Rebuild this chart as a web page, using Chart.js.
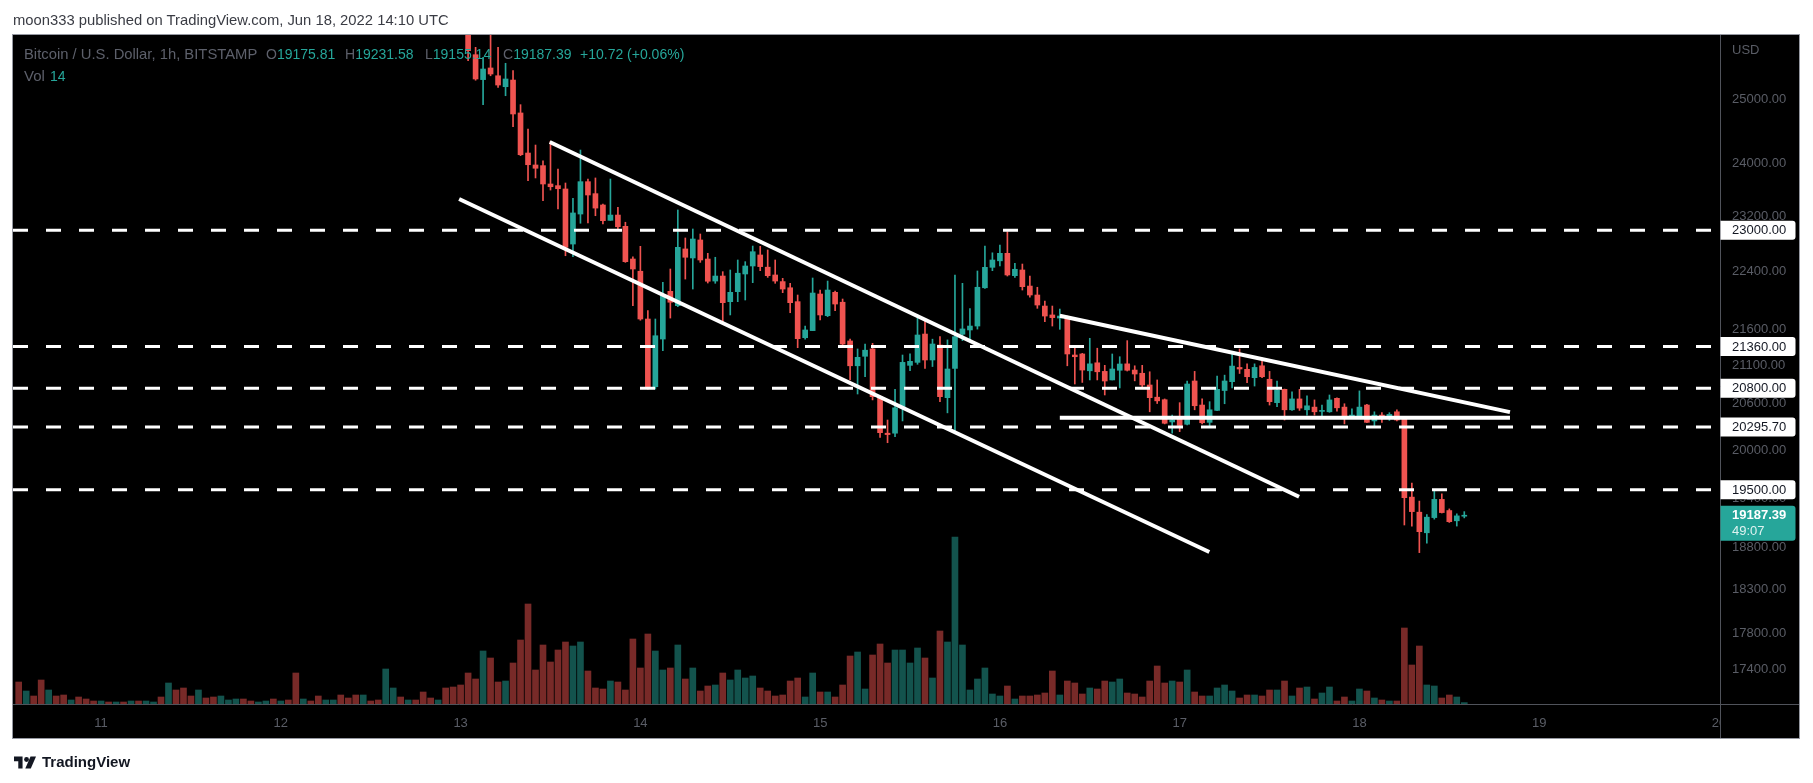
<!DOCTYPE html>
<html lang="en">
<head>
    <meta charset="UTF-8">
    <title>BTCUSD 1h - BITSTAMP</title>
    <script src="https://cdn.jsdelivr.net/npm/chart.js@4.4.1/dist/chart.umd.min.js"></script>
    <style>
        html, body { margin: 0; padding: 0; background: #fff; }
        body { width: 1813px; height: 783px; position: relative; overflow: hidden;
               font-family: 'Liberation Sans', Arial, sans-serif; }
        #chart { position: absolute; left: 0; top: 0; }
        .t { position: absolute; white-space: nowrap; font-size: 14px; line-height: 16px; }
        .grey { color: #5d606b; }
        .teal { color: #26a69a; }
        #header { left: 13px; top: 12px; color: #3a3c44; font-size: 14.8px; }
        #footer { left: 14px; top: 754px; display: flex; align-items: center; gap: 6px;
                  color: #131722; font-size: 15px; font-weight: bold; }
    </style>
</head>
<body>
    <canvas id="chart" width="1813" height="783"></canvas>

    <div class="t" id="header">moon333 published on TradingView.com, Jun 18, 2022 14:10 UTC</div>

    <!-- legend, top left of the pane -->
    <div class="t grey" style="left:24px; top:46px; font-size:14.8px;">Bitcoin / U.S. Dollar, 1h, BITSTAMP</div>
    <div class="t" style="left:266px; top:46px;"><span class="grey">O</span><span class="teal">19175.81</span></div>
    <div class="t" style="left:345px; top:46px;"><span class="grey">H</span><span class="teal">19231.58</span></div>
    <div class="t" style="left:425px; top:46px;"><span class="grey">L</span><span class="teal">19155.14</span></div>
    <div class="t" style="left:503px; top:46px;"><span class="grey">C</span><span class="teal">19187.39</span></div>
    <div class="t teal" style="left:580px; top:46px;">+10.72 (+0.06%)</div>
    <div class="t grey" style="left:24px; top:68px; font-size:15px;">Vol</div>
    <div class="t teal" style="left:50px; top:68px;">14</div>

    <div class="t" id="footer">
        <svg width="22" height="15" viewBox="0 0 36 24"><path fill="#131722" d="M14 22H7V10H0V2h14z"/><circle fill="#131722" cx="20.5" cy="7" r="4"/><path fill="#131722" d="M27 2h9l-8.5 20H18.5z"/></svg>
        <span>TradingView</span>
    </div>

    <script>
        // x values are hours counted from Jun 18 2022 00:00 UTC
        const firstCandle = -119;   // Jun 13 01:00
        const firstVolume = -179;   // Jun 10 13:00

        const open = [
            26180, 25714, 25310, 25498, 25372, 25196, 25303, 24779, 24156, 23973,
            23963, 23685, 23660, 23610, 22798, 23237, 23720, 23540, 23371, 23144,
            23222, 23056, 22582, 22407, 21737, 20821, 21462, 22123, 21922, 22727,
            22597, 22857, 22582, 22268, 22339, 21978, 22118, 22368, 22482, 22640,
            22465, 22354, 22260, 22173, 21978, 21480, 21577, 22085, 21783, 22109,
            21970, 21436, 21100, 21228, 21327, 20690, 20215, 20215, 20550, 21106,
            21146, 21530, 21178, 21380, 20677, 21065, 21527, 21586, 21640, 22173,
            22463, 22556, 22664, 22344, 22425, 22197, 22071, 21917, 21793, 21750,
            21756, 21245, 21259, 21033, 21140, 21025, 20911, 21040, 21126, 21043,
            21000, 20844, 20683, 20650, 20360, 20395, 20330, 20897, 20580, 20355,
            20510, 20771, 20888, 21078, 21053, 20941, 21100, 20920, 20611, 20787,
            20518, 20660, 20518, 20553, 20497, 20492, 20668, 20553, 20415, 20432,
            20580, 20373, 20449, 20420, 20492, 20395, 19410, 19225, 18975, 19159,
            19382, 19245, 19120, 19175.81
        ];
        const high = [
            26250, 25835, 25672, 26100, 25835, 25574, 25454, 24910, 24528, 24279,
            24038, 24337, 23912, 23700, 23470, 24202, 23760, 23776, 23386, 23760,
            23337, 23116, 22615, 22765, 21852, 21737, 22251, 22439, 23297, 22886,
            23017, 22944, 22664, 22607, 22401, 22425, 22568, 22544, 22769, 22765,
            22712, 22568, 22306, 22236, 22071, 21640, 22311, 22141, 22268, 22125,
            22015, 21460, 21327, 21394, 21403, 20700, 20385, 20787, 21245, 21260,
            21760, 21737, 21460, 21494, 21450, 22354, 22236, 21880, 22411, 22769,
            22671, 22784, 22978, 22520, 22510, 22339, 22180, 21985, 21917, 21875,
            21778, 21337, 21268, 21472, 21337, 21106, 21259, 21222, 21440, 21100,
            21106, 21020, 20911, 20660, 20449, 20611, 20897, 21025, 20660, 20624,
            20963, 20975, 21290, 21327, 21126, 21126, 21205, 21025, 20897, 20790,
            20755, 20787, 20700, 20647, 20580, 20712, 20675, 20597, 20530, 20766,
            20590, 20492, 20480, 20480, 20518, 20420, 19583, 19361, 19195, 19506,
            19450, 19265, 19205, 19231.58
        ];
        const low = [
            25616, 25300, 24910, 25372, 25186, 25052, 24563, 24115, 23735, 23776,
            23434, 23594, 23311, 22629, 22615, 23101, 23105, 23212, 23090, 23144,
            23017, 22534, 21922, 21720, 20790, 20790, 21304, 21750, 21908, 22296,
            22155, 22534, 22240, 22236, 21700, 21793, 21978, 22001, 22245, 22415,
            22320, 22236, 22104, 21824, 21344, 21460, 21577, 21724, 21770, 21852,
            21380, 20911, 20725, 20954, 20647, 20162, 20093, 20170, 20373, 21033,
            21120, 21065, 21090, 20625, 20478, 20235, 21440, 21440, 21598, 22165,
            22415, 22482, 22339, 22320, 22141, 22040, 21885, 21700, 21640, 21595,
            21100, 20857, 20878, 20911, 20911, 20712, 20911, 20805, 21030, 20899,
            20814, 20492, 20600, 20335, 20215, 20235, 20320, 20518, 20335, 20300,
            20505, 20597, 20805, 20997, 20876, 20830, 20941, 20580, 20558, 20385,
            20510, 20510, 20449, 20449, 20427, 20485, 20501, 20335, 20410, 20425,
            20350, 20297, 20355, 20380, 20373, 19069, 19056, 18737, 18850, 19140,
            19215, 19100, 19056, 19155.14
        ];
        const close = [
            25780, 25320, 25481, 25400, 25223, 25320, 24763, 24130, 23977, 23923,
            23685, 23644, 23614, 22750, 23253, 23720, 23520, 23325, 23139, 23222,
            23050, 22544, 22439, 21737, 20814, 21507, 22071, 21970, 22750, 22607,
            22871, 22568, 22265, 22339, 21964, 22109, 22379, 22482, 22687, 22473,
            22344, 22268, 22155, 21964, 21467, 21586, 22099, 21793, 22141, 21945,
            21394, 21100, 21214, 21310, 20690, 20222, 20197, 20544, 21146, 21160,
            21517, 21178, 21394, 20690, 21057, 21494, 21600, 21640, 22180, 22463,
            22568, 22664, 22354, 22435, 22188, 22071, 21931, 21778, 21756, 21778,
            21259, 21222, 21043, 21126, 21020, 20897, 21057, 21124, 21040, 20990,
            20844, 20677, 20635, 20343, 20388, 20315, 20857, 20571, 20350, 20518,
            20787, 20897, 21096, 21057, 20954, 21078, 20954, 20624, 20777, 20518,
            20660, 20540, 20570, 20492, 20510, 20647, 20544, 20432, 20449, 20553,
            20355, 20449, 20432, 20458, 20385, 19403, 19232, 18988, 19164, 19382,
            19220, 19109, 19180, 19187.39
        ];

        // BTC per hour, starting at firstVolume
        const volume = [
            220, 130, 80, 240, 140, 80, 90, 40, 70, 50,
            30, 30, 20, 20, 20, 30, 30, 30, 20, 70,
            210, 140, 160, 80, 140, 60, 70, 80, 40, 50,
            50, 30, 20, 30, 50, 30, 40, 310, 50, 30,
            80, 40, 40, 90, 60, 90, 90, 30, 40, 350,
            160, 70, 40, 40, 120, 60, 40, 160, 170, 190,
            310, 250, 530, 460, 220, 230, 410, 640, 1000, 340,
            590, 420, 540, 620, 580, 620, 330, 160, 150, 230,
            220, 140, 650, 360, 700, 530, 340, 360, 590, 250,
            360, 130, 180, 190, 310, 240, 340, 260, 280, 160,
            130, 80, 90, 230, 260, 70, 310, 120, 120, 70,
            190, 480, 520, 150, 490, 600, 410, 540, 540, 410,
            560, 460, 260, 730, 620, 1670, 590, 140, 250, 360,
            100, 80, 180, 50, 80, 80, 90, 110, 330, 90,
            230, 210, 100, 160, 150, 230, 220, 250, 110, 100,
            70, 230, 380, 210, 230, 220, 340, 120, 80, 80,
            160, 190, 130, 60, 90, 90, 80, 140, 140, 230,
            80, 160, 170, 50, 110, 170, 30, 70, 30, 150,
            130, 60, 40, 30, 30, 760, 390, 580, 190, 180,
            60, 90, 70, 14
        ];
        // direction of the candles that sit above the visible price range (u = up, d = down)
        const earlyDir = 'dudduddudd' + 'dudududuud' + 'udddudduuu' + 'dduududdud' + 'duuddduddu' + 'ududdduddd';

        const priceTicks = [25000, 24000, 23200, 22400, 21600, 21100, 20600, 20000, 19400, 18800, 18300, 17800, 17400];
        const dayTicks = [-168, -144, -120, -96, -72, -48, -24, 0, 24, 48];
        const dayLabels = ['11', '12', '13', '14', '15', '16', '17', '18', '19', '20'];

        // horizontal levels drawn by the author
        const levels = [23000, 21360, 20800, 20295.70, 19500];
        // trend lines drawn by the author: [hour, price] end points
        const channelUpper = [[-108.1, 24326], [-8.06, 19415]];
        const channelLower = [[-120.2, 23460], [-20.04, 18744]];
        const wedgeTop = [[-40, 21783], [20.1, 20488]];
        const wedgeBase = [[-40, 20415], [20.1, 20415]];

        const lastPrice = 19187.39;
        const countdown = '49:07';

        const xMin = -179.76, xMax = 48.14;
        const UP = '#26a69a', DOWN = '#ef5350';
        const AXIS = '#5a5d66';

        Chart.defaults.font.family = "'Liberation Sans', Arial, sans-serif";

        const isUp = open.map((o, i) => close[i] >= o);
        const candleColor = isUp.map(u => u ? UP : DOWN);
        const volColor = volume.map((v, i) => {
            const k = firstVolume + i - firstCandle;
            const up = k >= 0 ? isUp[k] : earlyDir[i] === 'u';
            return up ? 'rgba(38,166,154,0.5)' : 'rgba(239,83,80,0.5)';
        });

        const toPoints = pts => pts.map(p => ({ x: p[0], y: p[1] }));

        const lineSet = (data, extra) => Object.assign({
            type: 'line', data, yAxisID: 'y', borderColor: '#ffffff',
            pointRadius: 0, fill: false, tension: 0
        }, extra);

        const datasets = [
            {
                label: 'Volume', type: 'bar', yAxisID: 'yv', order: 5, grouped: false,
                data: volume.map((v, i) => ({ x: firstVolume + i, y: v })),
                backgroundColor: volColor, barThickness: 6
            },
            {
                label: 'Wicks', type: 'bar', yAxisID: 'y', order: 3, grouped: false,
                data: open.map((o, i) => ({ x: firstCandle + i, y: [low[i], high[i]] })),
                backgroundColor: candleColor, barThickness: 1
            },
            {
                label: 'Bodies', type: 'bar', yAxisID: 'y', order: 2, grouped: false,
                data: open.map((o, i) => ({ x: firstCandle + i, y: [o, close[i]] })),
                backgroundColor: candleColor, barThickness: 5, minBarLength: 1
            }
        ];

        levels.forEach(v => {
            datasets.push(lineSet([{ x: xMin, y: v }, { x: xMax, y: v }],
                { order: 1, borderWidth: 3, borderDash: [15, 18] }));
        });
        [channelUpper, channelLower, wedgeTop, wedgeBase].forEach(seg => {
            datasets.push(lineSet(toPoints(seg), { order: 0, borderWidth: 4, borderCapStyle: 'butt' }));
        });

        // page background, pane frame and price tags
        const frame = {
            id: 'frame',
            beforeDraw(chart) {
                const ctx = chart.ctx;
                ctx.save();
                ctx.fillStyle = '#ffffff';
                ctx.fillRect(0, 0, chart.width, chart.height);
                ctx.fillStyle = '#000000';
                ctx.fillRect(12, 34, 1788, 705);
                ctx.restore();
            },
            afterDraw(chart) {
                const ctx = chart.ctx;
                const a = chart.chartArea;
                const y = chart.scales.y;
                const right = 1799.5, bottom = 738.5;
                ctx.save();

                // the "20" label runs under the price scale, cut it like the original
                ctx.fillStyle = '#000000';
                ctx.fillRect(a.right, a.bottom + 1, right - a.right, bottom - a.bottom - 1);

                ctx.lineWidth = 1;
                ctx.strokeStyle = '#50535b';
                ctx.beginPath();
                ctx.moveTo(a.right + 0.5, 34.5);
                ctx.lineTo(a.right + 0.5, bottom);
                ctx.moveTo(12.5, a.bottom + 0.5);
                ctx.lineTo(right, a.bottom + 0.5);
                ctx.stroke();
                ctx.strokeStyle = '#9598a1';
                ctx.strokeRect(12.5, 34.5, 1787, 704);

                ctx.font = "13px 'Liberation Sans', Arial, sans-serif";
                ctx.textBaseline = 'middle';
                ctx.textAlign = 'left';
                ctx.fillStyle = AXIS;
                ctx.fillText('USD', a.right + 12, 50);

                const tag = (top, h, color) => {
                    ctx.fillStyle = color;
                    ctx.beginPath();
                    if (ctx.roundRect) ctx.roundRect(a.right + 0.5, top, 75, h, [0, 3, 3, 0]);
                    else ctx.rect(a.right + 0.5, top, 75, h);
                    ctx.fill();
                };

                levels.forEach(v => {
                    const py = y.getPixelForValue(v);
                    tag(py - 9.5, 19, '#ffffff');
                    ctx.fillStyle = '#131722';
                    ctx.fillText(v.toFixed(2), a.right + 12, py + 0.5);
                });

                const py = y.getPixelForValue(lastPrice);
                tag(py - 9.5, 35, UP);
                ctx.fillStyle = '#ffffff';
                ctx.font = "bold 13px 'Liberation Sans', Arial, sans-serif";
                ctx.fillText(lastPrice.toFixed(2), a.right + 12, py + 0.5);
                ctx.font = "13px 'Liberation Sans', Arial, sans-serif";
                ctx.fillStyle = 'rgba(255,255,255,0.85)';
                ctx.fillText(countdown, a.right + 12, py + 16.5);

                ctx.restore();
            }
        };

        new Chart(document.getElementById('chart'), {
            type: 'bar',
            data: { datasets },
            plugins: [frame],
            options: {
                responsive: false,
                animation: false,
                layout: { padding: { left: 13, top: 35, right: 14, bottom: 45 } },
                plugins: { legend: { display: false }, tooltip: { enabled: false } },
                scales: {
                    x: {
                        type: 'linear', min: xMin, max: xMax, offset: false,
                        grid: { display: false, drawTicks: false }, border: { display: false },
                        afterBuildTicks: s => { s.ticks = dayTicks.map(v => ({ value: v })); },
                        afterFit: s => { s.height = 34; },
                        ticks: {
                            autoSkip: false, maxRotation: 0, padding: 12, color: AXIS,
                            font: { size: 13 },
                            callback: v => dayLabels[dayTicks.indexOf(v)]
                        }
                    },
                    y: {
                        type: 'logarithmic', position: 'right', min: 17018, max: 26038,
                        grid: { display: false, drawTicks: false }, border: { display: false },
                        afterBuildTicks: s => { s.ticks = priceTicks.map(v => ({ value: v })); },
                        afterFit: s => { s.width = 79; },
                        ticks: {
                            autoSkip: false, padding: 12, color: AXIS,
                            font: { size: 13 },
                            callback: v => Number(v).toFixed(2)
                        }
                    },
                    yv: { type: 'linear', display: false, min: 0, max: 6690 }
                }
            }
        });
    </script>
</body>
</html>
